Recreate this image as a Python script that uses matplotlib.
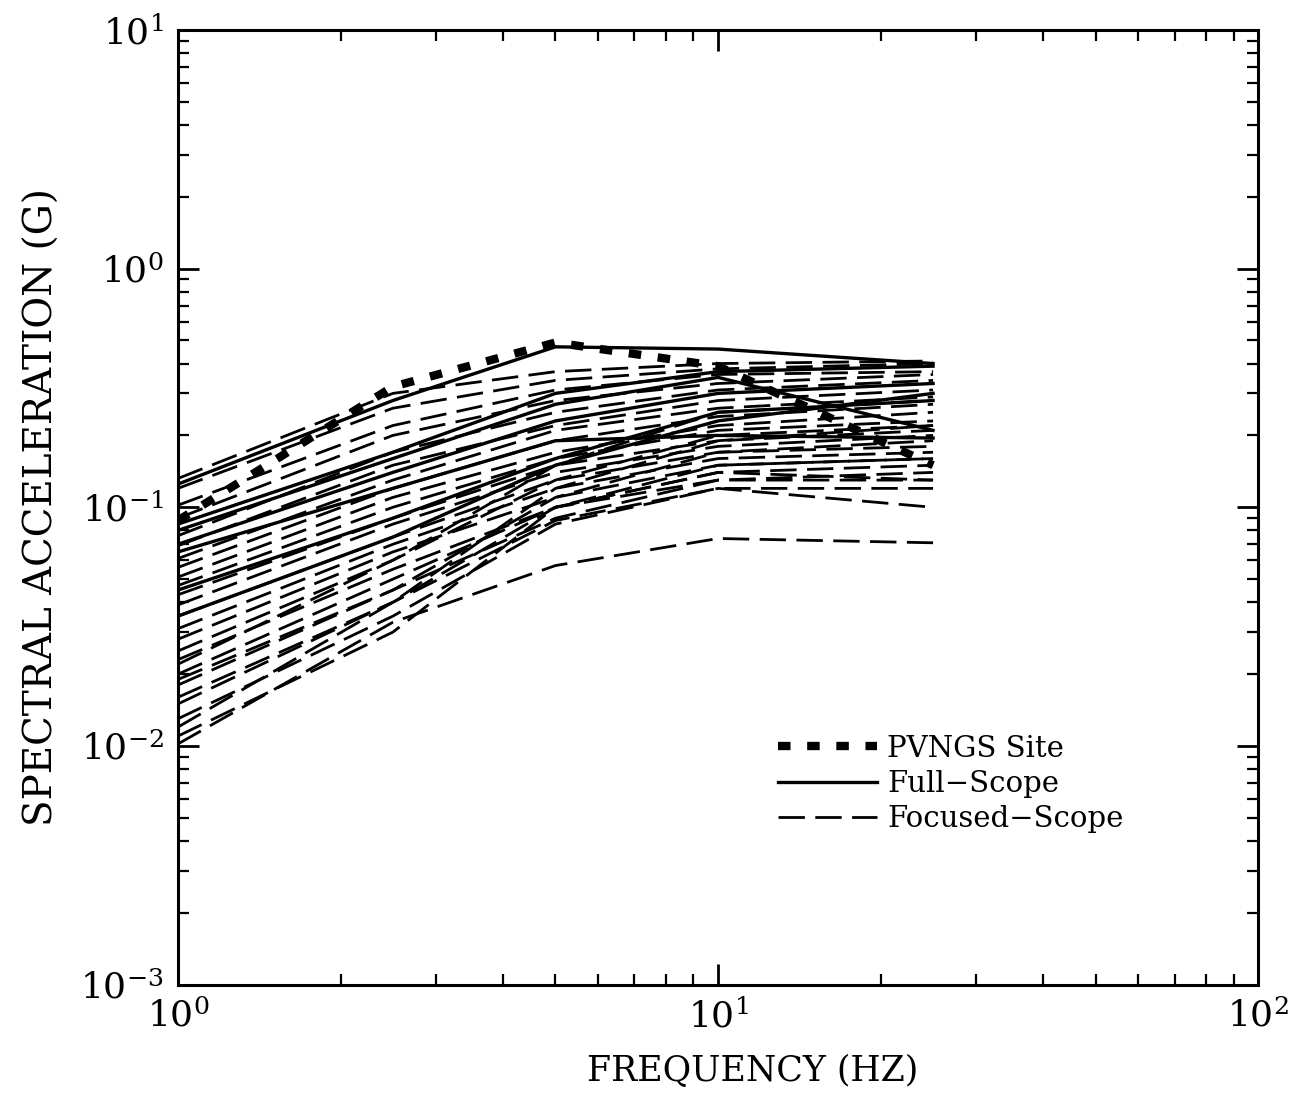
import matplotlib
matplotlib.use("Agg")
import matplotlib.pyplot as plt
from matplotlib.ticker import LogLocator, NullFormatter

plt.rcParams.update({
    "font.family": "DejaVu Serif",
    "mathtext.fontset": "dejavuserif",
    "lines.scale_dashes": False,
})

# frequencies where the spectra are given (Hz)
freq = [1.0, 2.5, 5.0, 10.0, 25.0]

# PVNGS site spectrum (g)
pvngs = [0.088, 0.32, 0.49, 0.39, 0.15]

# full-scope spectra (g)
full_scope = [
    [0.125, 0.28, 0.47, 0.46, 0.40],
    [0.085, 0.17, 0.30, 0.37, 0.39],
    [0.080, 0.16, 0.27, 0.35, 0.21],
    [0.070, 0.14, 0.23, 0.30, 0.33],
    [0.065, 0.12, 0.19, 0.20, 0.195],
    [0.045, 0.09, 0.16, 0.25, 0.28],
    [0.035, 0.075, 0.15, 0.23, 0.30],
]

# focused-scope spectra (g)
focused_scope = [
    [0.132, 0.30, 0.37, 0.40, 0.41],
    [0.120, 0.26, 0.34, 0.38, 0.40],
    [0.102, 0.22, 0.31, 0.36, 0.37],
    [0.090, 0.20, 0.28, 0.33, 0.36],
    [0.076, 0.17, 0.25, 0.31, 0.34],
    [0.069, 0.15, 0.22, 0.28, 0.31],
    [0.061, 0.13, 0.21, 0.26, 0.29],
    [0.056, 0.12, 0.19, 0.24, 0.27],
    [0.051, 0.11, 0.17, 0.22, 0.25],
    [0.047, 0.10, 0.16, 0.21, 0.23],
    [0.043, 0.09, 0.15, 0.19, 0.22],
    [0.039, 0.085, 0.14, 0.18, 0.20],
    [0.035, 0.075, 0.13, 0.17, 0.19],
    [0.031, 0.07, 0.12, 0.16, 0.17],
    [0.028, 0.065, 0.11, 0.15, 0.16],
    [0.025, 0.06, 0.13, 0.20, 0.22],
    [0.023, 0.055, 0.10, 0.14, 0.15],
    [0.022, 0.06, 0.15, 0.25, 0.28],
    [0.020, 0.05, 0.10, 0.13, 0.14],
    [0.019, 0.045, 0.09, 0.13, 0.13],
    [0.018, 0.045, 0.11, 0.17, 0.18],
    [0.016, 0.04, 0.088, 0.12, 0.12],
    [0.015, 0.04, 0.10, 0.15, 0.16],
    [0.013, 0.035, 0.085, 0.12, 0.10],
    [0.012, 0.04, 0.12, 0.19, 0.21],
    [0.011, 0.03, 0.10, 0.14, 0.13],
    [0.0102, 0.033, 0.057, 0.074, 0.071],
]

fig = plt.figure(figsize=(13.08, 11.04), dpi=100)
ax = fig.add_axes([0.136, 0.108, 0.826, 0.865])

for i, s in enumerate(focused_scope):
    ax.plot(freq, s, color="black", lw=2.0, dashes=(19, 7.5),
            label="Focused\u2212Scope" if i == 0 else None)
for i, s in enumerate(full_scope):
    ax.plot(freq, s, color="black", lw=2.4, solid_joinstyle="miter",
            label="Full\u2212Scope" if i == 0 else None)
ax.plot(freq, pvngs, color="black", lw=6, dashes=(9, 12), dash_capstyle="butt",
        label="PVNGS Site")

ax.set_xscale("log")
ax.set_yscale("log")
ax.set_xlim(1, 100)
ax.set_ylim(1e-3, 10)

for side in ax.spines.values():
    side.set_linewidth(2.2)

ax.yaxis.set_major_locator(LogLocator(base=10))
ax.yaxis.set_minor_locator(LogLocator(base=10, subs=range(2, 10)))
ax.yaxis.set_minor_formatter(NullFormatter())
ax.xaxis.set_minor_formatter(NullFormatter())
ax.tick_params(which="both", direction="in", top=True, right=True,
               labelsize=26, pad=10)
ax.tick_params(which="major", length=15, width=2)
ax.tick_params(which="minor", length=8, width=1.6)

ax.set_xlabel("FREQUENCY (HZ)", fontsize=25, labelpad=14)
ax.xaxis.label.set_x(0.532)
ax.set_ylabel("SPECTRAL ACCELERATION (G)", fontsize=28, labelpad=14)

handles, labels = ax.get_legend_handles_labels()
order = [labels.index("PVNGS Site"), labels.index("Full\u2212Scope"),
         labels.index("Focused\u2212Scope")]
ax.legend([handles[k] for k in order], [labels[k] for k in order],
          loc="upper left", bbox_to_anchor=(0.555, 0.262), frameon=False,
          fontsize=21, handlelength=3.4, handletextpad=0.35,
          borderpad=0, borderaxespad=0, labelspacing=0.25)

fig.savefig("out.png", dpi=100)
